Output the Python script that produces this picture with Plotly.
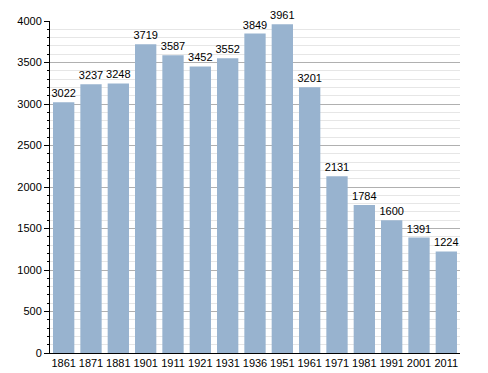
import plotly.graph_objects as go

years = ["1861","1871","1881","1901","1911","1921","1931","1936","1951","1961","1971","1981","1991","2001","2011"]
population = [3022,3237,3248,3719,3587,3452,3552,3849,3961,3201,2131,1784,1600,1391,1224]
y_ticks = [0,500,1000,1500,2000,2500,3000,3500,4000]

fig = go.Figure(go.Bar(
    x=years, y=population, text=[str(v) for v in population],
    textposition="outside", cliponaxis=False, textangle=0,
    textfont=dict(size=11, color="black", family="Liberation Sans"),
    marker=dict(color="#98b3cf", line=dict(width=0)),
))
fig.update_layout(
    width=488, height=373,
    margin=dict(l=50, r=28, t=21, b=20, autoexpand=False),
    paper_bgcolor="white", plot_bgcolor="white",
    bargap=0.22, showlegend=False,
    uniformtext=dict(minsize=11, mode="show"),
    font=dict(family="Liberation Sans", size=11, color="black"),
)
fig.update_xaxes(type="category", showline=True, linecolor="black", linewidth=1,
                 ticks="", tickfont=dict(size=11), showgrid=False, automargin=False)
fig.update_yaxes(range=[0,4000], tickvals=y_ticks, showline=True, linecolor="black", linewidth=1,
                 ticks="outside", ticklen=5, tickcolor="black", automargin=False,
                 gridcolor="#b0b0b0", gridwidth=1, zeroline=False,
                 minor=dict(dtick=100, ticks="outside", ticklen=2, tickcolor="black",
                            showgrid=True, gridcolor="#e6e6e6", gridwidth=1),
                 tickfont=dict(size=11))
fig.write_html("out.html", config={"displayModeBar": False},
               post_script="document.body.style.margin='0';document.body.style.overflow='hidden';")
